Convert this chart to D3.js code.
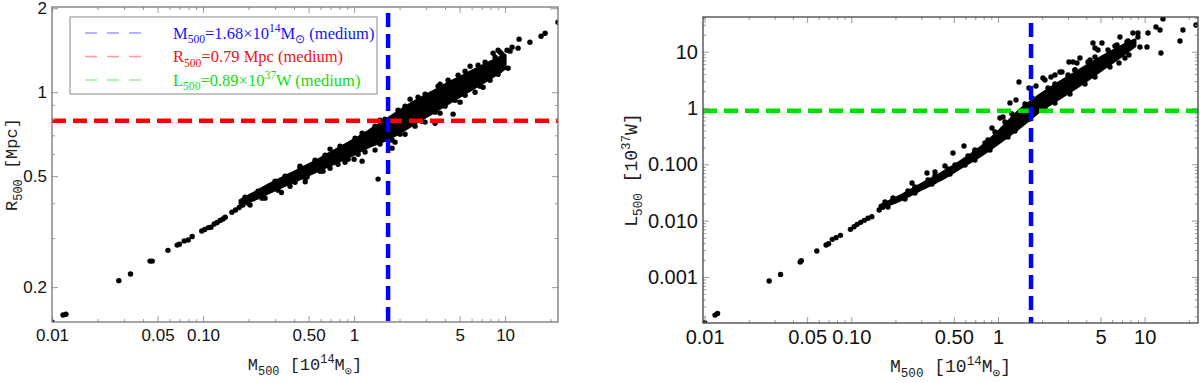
<!DOCTYPE html>
<html>
<head>
<meta charset="utf-8">
<script src="https://cdn.jsdelivr.net/npm/d3@7"></script>
<style>
body { margin: 0; background: #fff; }
svg { display: block; }
</style>
</head>
<body>
<svg id="fig" width="1200" height="383"></svg>
<script>
// ---- data ----
// reference (medium) values
var M500_ref = 1.68;   // 10^14 Msun
var R500_ref = 0.79;   // Mpc
var L500_ref = 0.89;   // 10^37 W

// left panel, isolated clusters (mass, radius)
var massR = [0.0100, 0.01183, 0.01237, 0.0277, 0.0331, 0.0446, 0.0461, 0.0586, 0.0674, 0.0697, 0.0750, 0.0798, 0.0848,
	0.0981, 0.1026, 0.1085, 0.1128, 0.1186, 0.1241, 0.1298, 0.1357, 0.1402, 0.1552, 0.1641, 0.1735, 0.1836,
	0.3304, 0.475, 0.4884, 0.6233, 1.0, 1.13, 1.442, 1.785, 1.785, 2.736, 3.439, 4.525, 7.151, 9.27, 8.33, 8.99,
	10.3, 11.13, 12.19, 12.38, 14.6, 17.3, 18.4, 22.4];
var radiusR = [0.150, 0.159, 0.160, 0.211, 0.223, 0.248, 0.248, 0.271, 0.283, 0.285, 0.293, 0.295, 0.304,
	0.318, 0.322, 0.327, 0.328, 0.337, 0.341, 0.347, 0.351, 0.356, 0.371, 0.378, 0.386, 0.394,
	0.437, 0.477, 0.496, 0.521, 0.575, 0.566, 0.488, 0.630, 0.673, 0.841, 0.774, 0.834, 1.042, 1.199, 1.380, 1.414,
	1.414, 1.450, 1.438, 1.549, 1.51, 1.587, 1.627, 1.782];

// left panel, points on the rim of the dense band
var rimMassR = [0.1897, 0.2313, 0.2998, 0.3491, 0.4388, 0.5516, 0.6427, 0.8077, 1.015, 1.130, 1.377, 1.604, 1.956, 2.176,
	2.653, 2.953, 3.600, 4.194, 4.884, 5.434, 6.626, 7.373, 8.586, 9.552, 10.79,
	0.1986, 0.2458, 0.3138, 0.4067, 0.4737, 0.5955, 0.7834, 0.9127, 1.063, 1.487, 2.016, 2.535, 2.820, 3.439, 4.005,
	4.666, 5.434, 6.830, 7.958, 8.988, 10.47,
	0.2048, 0.2574, 0.3769, 0.6935, 0.8717, 1.183, 1.377, 1.868, 2.176, 2.953, 3.711, 5.035, 6.328,
	0.4388, 0.6935, 1.487, 2.349, 3.711, 5.865, 9.27];
var rimR = [0.4204, 0.4416, 0.4797, 0.4999, 0.5340, 0.5705, 0.5945, 0.6406, 0.6842, 0.7129, 0.7553, 0.8002, 0.8618, 0.8909,
	0.9596, 0.9836, 1.051, 1.104, 1.151, 1.189, 1.250, 1.281, 1.335, 1.369, 1.403,
	0.4001, 0.4170, 0.4454, 0.4757, 0.4917, 0.5209, 0.5519, 0.5752, 0.5994, 0.6513, 0.7071, 0.7553, 0.7873, 0.8479, 0.8909,
	0.9361, 0.9755, 1.051, 1.104, 1.160, 1.219,
	0.394, 0.417, 0.460, 0.534, 0.561, 0.610, 0.620, 0.662, 0.707, 0.781, 0.841, 0.921, 1.0,
	0.543, 0.625, 0.794, 0.944, 1.068, 1.239, 1.391];

// left panel, dense core of overlapping points (mass, lower/upper radius)
var coreMassR = [0.1758, 0.2047, 0.2778, 0.3769, 0.5112, 0.6935, 0.9408, 1.276, 1.731, 2.349, 3.187, 4.323, 5.865, 7.958, 10.0];
var coreRhi = [0.4084, 0.4273, 0.4680, 0.5083, 0.5519, 0.6045, 0.6619, 0.7307, 0.8137, 0.9057, 0.9918, 1.086, 1.180, 1.281, 1.357];
var coreRlo = [0.3984, 0.4068, 0.4382, 0.4719, 0.5083, 0.5474, 0.5897, 0.6406, 0.6842, 0.7553, 0.8340, 0.9208, 1.017, 1.122, 1.219];

// right panel, isolated clusters (mass, luminosity)
var massL = [0.0100, 0.01178, 0.01225, 0.02755, 0.03295, 0.04482, 0.0456, 0.0582, 0.0673, 0.0700, 0.0742, 0.0787, 0.0843,
	0.0986, 0.1045, 0.1096, 0.1159, 0.1227, 0.1300, 0.1380, 0.1549, 0.1641,
	1.39, 1.627, 1.816, 2.026, 2.091, 2.298, 2.447, 2.646, 2.731, 3.048, 3.245, 3.349, 3.455, 3.622, 4.239, 4.442, 4.584,
	4.805, 5.117, 6.475, 6.68, 6.785, 7.575, 7.816, 8.32, 9.0, 10.37, 10.53, 11.94, 12.72, 12.91, 13.33, 17.4, 18.24, 22.37,
	0.5864, 0.4934, 0.3281, 0.2594, 1.207, 1.327, 1.082, 0.372, 0.435, 0.697, 0.815, 0.910, 1.032];
var lumL = [1.54e-4, 2.10e-4, 2.25e-4, 8.46e-4, 1.11e-3, 1.84e-3, 1.94e-3, 2.88e-3, 3.69e-3, 3.89e-3, 4.65e-3, 4.98e-3, 5.47e-3,
	7.00e-3, 7.80e-3, 8.59e-3, 9.31e-3, 1.01e-2, 1.10e-2, 1.17e-2, 1.54e-2, 1.72e-2,
	2.896, 2.266, 2.459, 3.411, 3.143, 3.553, 3.856, 4.359, 4.359, 6.562, 6.562, 4.73, 6.3, 7.73, 7.12, 14.27, 11.63,
	10.72, 14.27, 13.15, 6.3, 18.24, 14.87, 8.74, 21.48, 21.48, 12.12, 21.48, 27.47, 24.29, 9.48, 38.08, 15.49, 24.29, 29.8,
	0.2113, 0.1587, 0.0701, 0.04655, 1.227, 1.387, 0.692, 0.0730, 0.0933, 0.1795, 0.2389, 0.4414, 0.6645];

// right panel, points on the rim of the dense band
var rimMassL = [0.1697, 0.1924, 0.2434, 0.2717, 0.3333, 0.3720, 0.4562, 0.5092, 0.6243, 0.6970, 0.8546, 0.9540, 1.116, 1.246,
	1.528, 1.705, 2.192, 2.446, 3.000, 3.349, 4.107, 4.584, 5.622, 6.275, 7.692, 9.000,
	0.1779, 0.2323, 0.2717, 0.3548, 0.4709, 0.5957, 0.6970, 0.8821, 1.170, 1.306, 1.652, 2.091, 2.446, 3.096, 3.918,
	4.584, 5.801, 7.339, 9.288];
var rimL = [0.02140, 0.02520, 0.03355, 0.03952, 0.05262, 0.06196, 0.08251, 0.09718, 0.1404, 0.1723, 0.2702, 0.3748, 0.5640, 0.7825,
	1.178, 1.505, 2.266, 2.668, 3.856, 4.732, 6.562, 8.053, 10.72, 12.62, 15.49, 18.24,
	0.01744, 0.02419, 0.03092, 0.04467, 0.06726, 0.09718, 0.1192, 0.1795, 0.3054, 0.3904, 0.6377, 0.9599, 1.227, 1.773, 2.668,
	3.553, 5.349, 7.73, 12.12];

// right panel, dense core
var coreMassL = [0.1569, 0.2148, 0.2939, 0.4024, 0.5508, 0.7541, 1.032, 1.413, 1.933, 2.646, 3.622, 4.958, 6.785, 8.588];
var coreLhi = [0.01854, 0.02735, 0.04288, 0.06726, 0.1099, 0.1948, 0.4067, 0.9215, 1.702, 2.896, 4.73, 7.73, 12.12, 16.14];
var coreLlo = [0.01674, 0.02322, 0.03495, 0.05262, 0.08598, 0.1404, 0.2489, 0.4598, 0.8845, 1.505, 2.561, 4.542, 8.053, 12.62];

// ticks
var massTicks = [0.01, 0.05, 0.1, 0.5, 1, 5, 10];
var massTickLabels = ["0.01", "0.05", "0.10", "0.50", "1", "5", "10"];
var radiusTicks = [0.2, 0.5, 1, 2];
var radiusTickLabels = ["0.2", "0.5", "1", "2"];
var lumTicks = [0.001, 0.01, 0.1, 1, 10];
var lumTickLabels = ["0.001", "0.010", "0.100", "1", "10"];

var svg = d3.select("#fig");
var tickFont = "'Liberation Sans', Arial, sans-serif";
var titleFont = "'Liberation Mono', 'DejaVu Sans Mono', monospace";
var legendFont = "'Liberation Serif', 'Times New Roman', serif";

function minorTicks(domain, majors) {
	var out = [];
	var lo = Math.floor(Math.log10(domain[0])), hi = Math.ceil(Math.log10(domain[1]));
	for (var d = lo; d <= hi; d++) {
		for (var k = 1; k < 10; k++) {
			var v = k * Math.pow(10, d);
			if (v >= domain[0] && v <= domain[1] && majors.indexOf(v) < 0) out.push(v);
		}
	}
	return out;
}

// text with sub/superscripts: parts = [[text, "", "sub" or "sup"], ...]
function richText(sel, parts, size) {
	var shift = 0;
	parts.forEach(function(p) {
		var t = sel.append("tspan").text(p[0]);
		var target = 0;
		if (p[1] == "sub") target = 0.3 * size;
		if (p[1] == "sup") target = -0.4 * size;
		t.attr("dy", target - shift);
		if (p[1]) t.attr("font-size", size * 0.7);
		shift = target;
	});
}

function drawPanel(p) {
	var x = d3.scaleLog().domain(p.xDomain).range([p.left, p.right]);
	var y = d3.scaleLog().domain(p.yDomain).range([p.bottom, p.top]);
	var g = svg.append("g");

	g.append("clipPath").attr("id", p.id + "clip")
		.append("rect")
		.attr("x", p.left).attr("y", p.top)
		.attr("width", p.right - p.left).attr("height", p.bottom - p.top);

	var plot = g.append("g").attr("clip-path", "url(#" + p.id + "clip)");

	// dense core (points overlapping into a solid band)
	var core = p.coreM.map(function(m, i) { return [m, p.coreLo[i], p.coreHi[i]]; });
	plot.append("path")
		.datum(core)
		.attr("d", d3.area()
			.x(function(d) { return x(d[0]); })
			.y0(function(d) { return y(d[1]); })
			.y1(function(d) { return y(d[2]); })
			.curve(d3.curveMonotoneX))
		.attr("fill", "#000")
		.attr("stroke", "#000")
		.attr("stroke-width", 3)
		.attr("stroke-linejoin", "round");

	plot.selectAll("circle")
		.data(p.xs)
		.enter()
		.append("circle")
		.attr("cx", function(d) { return x(d); })
		.attr("cy", function(d, i) { return y(p.ys[i]); })
		.attr("r", 2.7)
		.attr("fill", "#000");

	// reference lines
	if (p.hLine) {
		plot.append("line")
			.attr("x1", p.left).attr("x2", p.right)
			.attr("y1", y(p.hLine)).attr("y2", y(p.hLine))
			.attr("stroke", p.hColor).attr("stroke-width", 4.5)
			.attr("stroke-dasharray", "14,7");
	}
	plot.append("line")
		.attr("x1", x(M500_ref)).attr("x2", x(M500_ref))
		.attr("y1", p.top + 6).attr("y2", p.bottom)
		.attr("stroke", "#0000ff").attr("stroke-width", 4.5)
		.attr("stroke-dasharray", "14,7");

	// axes: majors + minors on all four sides
	var xMinor = minorTicks(p.xDomain, massTicks);
	var yMinor = minorTicks(p.yDomain, p.yTicks);

	function styleAxis(a) {
		a.select(".domain").remove();
		a.selectAll(".tick line").attr("stroke", "#999");
		a.selectAll("text").attr("font-family", tickFont).attr("font-size", p.labelSize).attr("fill", "#111");
	}

	styleAxis(g.append("g").attr("transform", "translate(0," + p.bottom + ")")
		.call(d3.axisBottom(x).tickValues(massTicks).tickSize(-6).tickPadding(7)
			.tickFormat(function(d, i) { return massTickLabels[i]; })));
	styleAxis(g.append("g").attr("transform", "translate(0," + p.bottom + ")")
		.call(d3.axisBottom(x).tickValues(xMinor).tickSize(-3).tickFormat("")));
	styleAxis(g.append("g").attr("transform", "translate(0," + p.top + ")")
		.call(d3.axisTop(x).tickValues(massTicks).tickSize(-6).tickFormat("")));
	styleAxis(g.append("g").attr("transform", "translate(0," + p.top + ")")
		.call(d3.axisTop(x).tickValues(xMinor).tickSize(-3).tickFormat("")));

	styleAxis(g.append("g").attr("transform", "translate(" + p.left + ",0)")
		.call(d3.axisLeft(y).tickValues(p.yTicks).tickSize(-6).tickPadding(5)
			.tickFormat(function(d, i) { return p.yLabels[i]; })));
	styleAxis(g.append("g").attr("transform", "translate(" + p.left + ",0)")
		.call(d3.axisLeft(y).tickValues(yMinor).tickSize(-3).tickFormat("")));
	styleAxis(g.append("g").attr("transform", "translate(" + p.right + ",0)")
		.call(d3.axisRight(y).tickValues(p.yTicks).tickSize(-6).tickFormat("")));
	styleAxis(g.append("g").attr("transform", "translate(" + p.right + ",0)")
		.call(d3.axisRight(y).tickValues(yMinor).tickSize(-3).tickFormat("")));

	// frame
	g.append("rect")
		.attr("x", p.left).attr("y", p.top)
		.attr("width", p.right - p.left).attr("height", p.bottom - p.top)
		.attr("fill", "none").attr("stroke", p.frameColor).attr("stroke-width", 1.3);

	// axis titles
	var xt = g.append("text")
		.attr("x", (p.left + p.right) / 2).attr("y", p.xTitleY)
		.attr("text-anchor", "middle")
		.attr("font-family", titleFont).attr("font-size", p.titleSize).attr("fill", "#222");
	richText(xt, [["M", ""], ["500", "sub"], ["  [10", ""], ["14", "sup"], ["M", ""], ["\u2299", "sub"], ["]", ""]], p.titleSize);

	var yt = g.append("text")
		.attr("transform", "translate(" + p.yTitleX + "," + ((p.top + p.bottom) / 2) + ") rotate(-90)")
		.attr("text-anchor", "middle")
		.attr("font-family", titleFont).attr("font-size", p.titleSize).attr("fill", "#222");
	richText(yt, p.yTitle, p.titleSize);

	return {x: x, y: y, g: g};
}

// left: R500 vs M500
drawPanel({
	id: "r", left: 52, right: 558, top: 7, bottom: 322,
	xDomain: [0.01, 22.4], yDomain: [0.15, 2.02],
	xs: massR.concat(rimMassR), ys: radiusR.concat(rimR),
	coreM: coreMassR, coreLo: coreRlo, coreHi: coreRhi,
	yTicks: radiusTicks, yLabels: radiusTickLabels,
	hLine: R500_ref, hColor: "#ff0000",
	frameColor: "#777", labelSize: 17, titleSize: 17,
	xTitleY: 370, yTitleX: 17,
	yTitle: [["R", ""], ["500", "sub"], ["  [Mpc]", ""]]
});

// right: L500 vs M500
drawPanel({
	id: "l", left: 703, right: 1198, top: 17, bottom: 323,
	xDomain: [0.00975, 23.1], yDomain: [1.52e-4, 41.3],
	xs: massL.concat(rimMassL), ys: lumL.concat(rimL),
	coreM: coreMassL, coreLo: coreLlo, coreHi: coreLhi,
	yTicks: lumTicks, yLabels: lumTickLabels,
	hLine: L500_ref, hColor: "#00e000",
	frameColor: "#444", labelSize: 20, titleSize: 18,
	xTitleY: 372, yTitleX: 637,
	yTitle: [["L", ""], ["500", "sub"], ["  [10", ""], ["37", "sup"], ["W]", ""]]
});

// legend (left panel)
var legendItems = [
	{color: "#1414ff", pale: "#9a9aff", parts: [["M", ""], ["500", "sub"], ["=1.68\u00d710", ""], ["14", "sup"], ["M", ""], ["\u2299", "sub"], [" (medium)", ""]]},
	{color: "#ee1111", pale: "#ff9a9a", parts: [["R", ""], ["500", "sub"], ["=0.79 Mpc (medium)", ""]]},
	{color: "#11dd11", pale: "#9aef9a", parts: [["L", ""], ["500", "sub"], ["=0.89\u00d710", ""], ["37", "sup"], ["W (medium)", ""]]}
];
var leg = svg.append("g");
leg.append("rect")
	.attr("x", 70).attr("y", 17).attr("width", 307).attr("height", 77)
	.attr("fill", "#fff").attr("stroke", "#888").attr("stroke-width", 1);
legendItems.forEach(function(d, i) {
	var cy = 33 + i * 23.5;
	leg.append("line")
		.attr("x1", 85).attr("x2", 142).attr("y1", cy).attr("y2", cy)
		.attr("stroke", d.pale).attr("stroke-width", 1.6)
		.attr("stroke-dasharray", "12,10");
	var t = leg.append("text")
		.attr("x", 173).attr("y", cy + 5.5)
		.attr("font-family", legendFont).attr("font-size", 16.5).attr("fill", d.color);
	richText(t, d.parts, 16.5);
});
</script>
</body>
</html>
